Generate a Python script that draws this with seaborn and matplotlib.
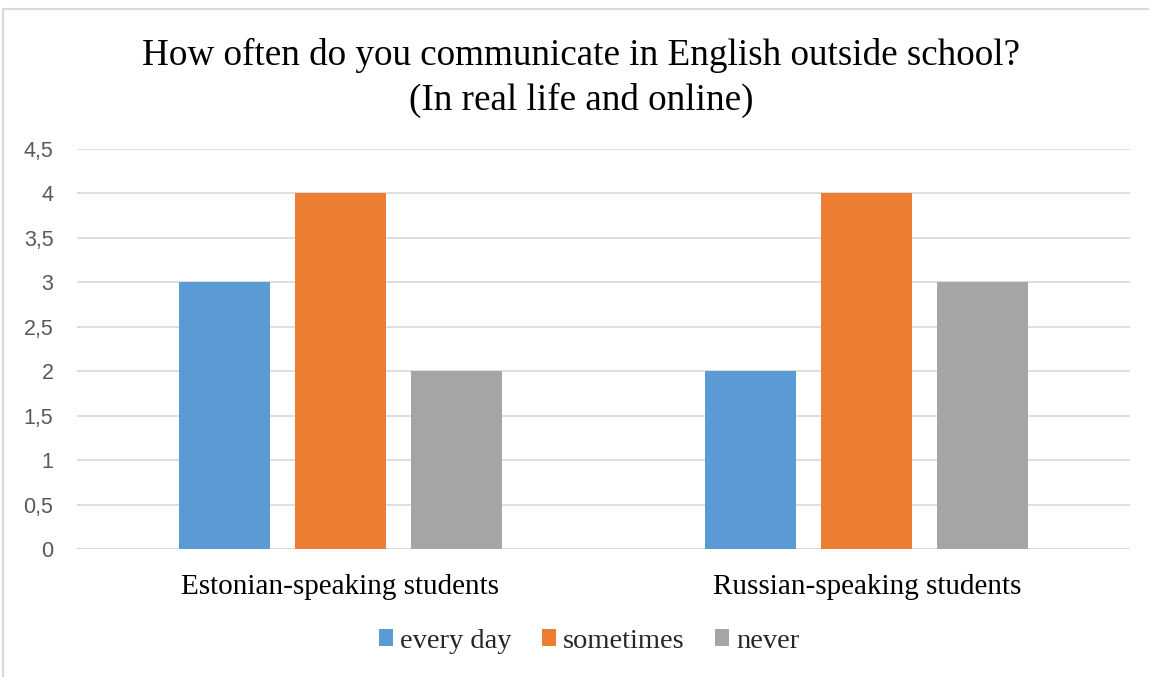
import matplotlib
matplotlib.use("Agg")
import matplotlib.pyplot as plt
from matplotlib.patches import Rectangle
import seaborn as sns
import pandas as pd

groups = ["Estonian-speaking students", "Russian-speaking students"]
answers = ["every day", "sometimes", "never"]
every_day = [3, 2]
sometimes = [4, 4]
never = [2, 3]
colors = ["#5B9BD5", "#ED7D31", "#A5A5A5"]
y_ticks = [0, 0.5, 1, 1.5, 2, 2.5, 3, 3.5, 4, 4.5]

rows = []
for answer, values in zip(answers, [every_day, sometimes, never]):
    for g, v in zip(groups, values):
        rows.append({"group": g, "answer": answer, "count": v})
df = pd.DataFrame(rows)

sns.set_theme(style="white")
serif = ["Liberation Serif", "DejaVu Serif"]
sans = ["Liberation Sans", "DejaVu Sans"]

fig = plt.figure(figsize=(11.49, 6.77), dpi=100)
ax = fig.add_axes([77 / 1149, 1 - 549 / 677, (1130 - 77) / 1149, (549 - 149) / 677])

sns.barplot(data=df, x="group", y="count", hue="answer", order=groups,
            hue_order=answers, palette=colors, width=0.661, gap=0.216,
            saturation=1, linewidth=0, edgecolor="none", ax=ax, legend=True)

ax.set_ylim(0, 4.5)
ax.set_xlim(-0.5, 1.5)
ax.set_yticks(y_ticks)
ax.set_yticklabels([f"{t:g}".replace(".", ",") for t in y_ticks],
                   fontfamily=sans, fontsize=15.5, color="#595959")
ax.yaxis.grid(True, color="#D9D9D9", linewidth=1.2)
ax.set_axisbelow(True)
for s in ax.spines.values():
    s.set_visible(False)
ax.tick_params(axis="y", length=0, pad=17)
ax.tick_params(axis="x", length=0, pad=18)
ax.set_xticks(range(len(groups)))
ax.set_xticklabels(groups, fontfamily=serif, fontsize=21, color="#000000")
ax.set_xlabel("")
ax.set_ylabel("")

# baseline
ax.axhline(0, color="#D9D9D9", linewidth=1.2, zorder=0)

ax.legend_.remove()
handles = [Rectangle((0, 0), 1, 1, facecolor=c, edgecolor="none") for c in colors]
fig.legend(handles, answers, loc="center", bbox_to_anchor=(589 / 1149, 1 - 641 / 677),
           ncol=3, frameon=False, prop={"family": serif, "size": 20.5},
           handlelength=0.5, handleheight=0.5, handletextpad=0.25, columnspacing=1.05)

fig.text(581 / 1149, 1 - 78 / 677,
         "How often do you communicate in English outside school?\n(In real life and online)",
         ha="center", va="center", fontfamily=serif, fontsize=26.7, color="#000000",
         linespacing=1.35)

# chart frame
fig.patches.append(Rectangle((3 / 1149, -0.2), 1.5, 1 - 9 / 677 + 0.2,
                             transform=fig.transFigure, fill=False,
                             edgecolor="#D9D9D9", linewidth=1.5))

fig.savefig("out.png", dpi=100, facecolor="white")
